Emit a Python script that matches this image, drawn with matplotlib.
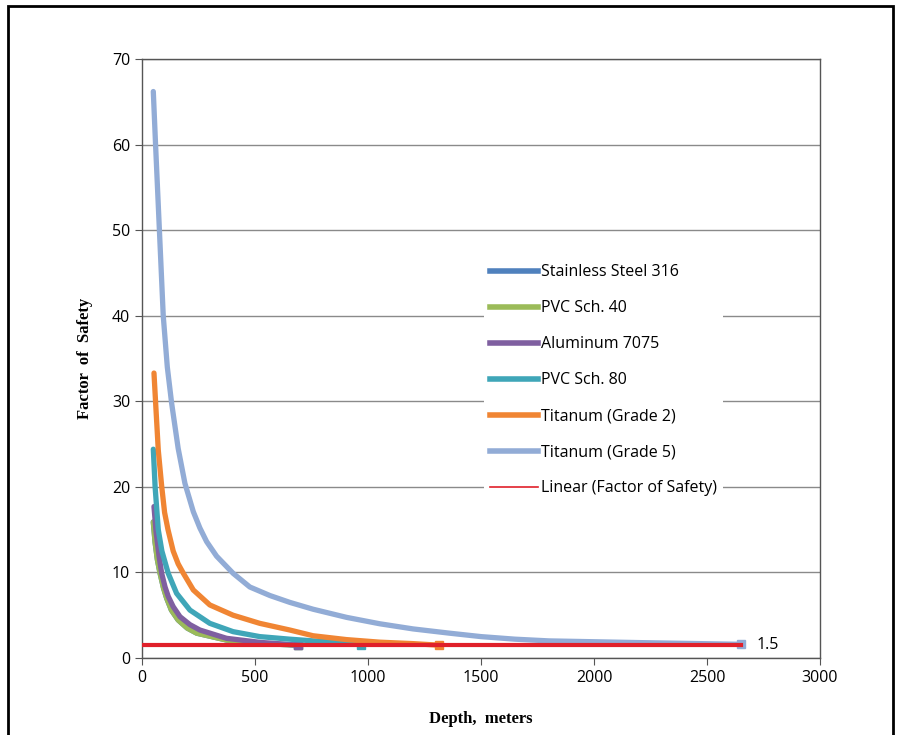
import numpy as np
import matplotlib
matplotlib.use("Agg")
import matplotlib.pyplot as plt
from matplotlib.patches import Rectangle
from matplotlib.lines import Line2D

# depth (m) and factor of safety
steel_x = [50, 58, 68, 80, 95, 109, 130, 160, 200, 242, 374, 521, 691]
steel_y = [15.9, 13.5, 11.5, 9.9, 8.2, 7.0, 5.6, 4.44, 3.5, 2.9, 2.1, 1.7, 1.5]
pvc40_x = [50, 58, 68, 80, 95, 109, 130, 160, 200, 242, 374, 521, 691]
pvc40_y = [15.9, 13.5, 11.5, 9.9, 8.2, 7.0, 5.6, 4.44, 3.5, 2.9, 2.1, 1.7, 1.5]
alu_x = [53, 62, 75, 87, 102, 116, 138, 168, 212, 256, 374, 521, 691]
alu_y = [17.7, 14.8, 12, 9.9, 8.3, 7.2, 6.0, 4.83, 3.9, 3.27, 2.3, 1.83, 1.5]
pvc80_x = [50, 58, 72, 88, 116, 153, 212, 300, 403, 521, 654, 757, 905, 971]
pvc80_y = [24.4, 20, 15, 12.5, 9.9, 7.56, 5.6, 4.05, 3.08, 2.5, 2.2, 2.0, 1.8, 1.5]
ti2_x = [53, 62, 72, 87, 100, 115, 138, 160, 183, 227, 300, 403, 521, 654, 757, 905,
         1052, 1199, 1314]
ti2_y = [33.3, 29, 24.3, 20.1, 17, 15, 12.5, 11, 9.9, 7.95, 6.2, 5.0, 4.05, 3.27, 2.6,
         2.15, 1.85, 1.68, 1.5]
ti5_x = [50, 60, 77, 94, 112, 131, 160, 190, 227, 256, 286, 330, 403, 477, 566, 654,
         757, 905, 1052, 1199, 1361, 1500, 1650, 1800, 2200, 2650]
ti5_y = [66.2, 60, 50, 40, 34, 29.8, 24.5, 20.4, 17.1, 15.2, 13.6, 11.9, 9.9, 8.3, 7.3,
         6.5, 5.7, 4.75, 4.0, 3.4, 2.9, 2.5, 2.2, 2.0, 1.8, 1.6]
fos_x = [0, 2650]
fos_y = [1.5, 1.5]

names = ["Stainless Steel 316", "PVC Sch. 40", "Aluminum 7075", "PVC Sch. 80",
         "Titanum (Grade 2)", "Titanum (Grade 5)"]
colors = ["#4F81BD", "#9BBB59", "#7F5FA0", "#3FA6B8", "#F08533", "#92ACD6"]
xs = [steel_x, pvc40_x, alu_x, pvc80_x, ti2_x, ti5_x]
ys = [steel_y, pvc40_y, alu_y, pvc80_y, ti2_y, ti5_y]

fig = plt.figure(figsize=(8.97, 7.35), dpi=100)
ax = fig.add_axes([142/897, 1 - 658/735, (820 - 142)/897, (658 - 59)/735])

for x, y, c in zip(xs, ys, colors):
    ax.plot(x, y, color=c, lw=3.8, solid_capstyle="round", solid_joinstyle="round",
            zorder=3, marker="s", markevery=[-1], markersize=6)
ax.plot(fos_x, fos_y, color="#E0202A", lw=3, zorder=4)
ax.text(2720, 1.5, "1.5", fontsize=11.5, family="Open Sans", va="center", ha="left")

ax.set_xlim(0, 3000)
ax.set_ylim(0, 70)
ax.set_xticks(np.arange(0, 3001, 500))
ax.set_yticks(np.arange(0, 71, 10))
ax.grid(axis="y", color="#8a8a8a", lw=1)
ax.set_axisbelow(True)
for s in ax.spines.values():
    s.set_color("#555555")
    s.set_linewidth(1)
ax.tick_params(colors="#555555", labelcolor="black", length=5, labelsize=11.5)
for lab in ax.get_xticklabels() + ax.get_yticklabels():
    lab.set_family("Open Sans")

ax.set_xlabel("Depth,  meters", family="Liberation Serif", weight="bold", fontsize=12, labelpad=18)
ax.set_ylabel("Factor  of  Safety", family="Liberation Serif", weight="bold", fontsize=12, labelpad=14)

handles = [Line2D([], [], color=c, lw=4) for c in colors]
handles.append(Line2D([], [], color="#E0202A", lw=1.2))
leg = ax.legend(handles, names + ["Linear (Factor of Safety)"],
                loc="upper left", bbox_to_anchor=(476/897, 1 - 250/735),
                bbox_transform=fig.transFigure, frameon=True, fancybox=False,
                edgecolor="none", facecolor="white", framealpha=1,
                handlelength=3.0, handletextpad=0.15, labelspacing=1.25,
                prop={"family": "Open Sans", "size": 11.5})
leg.set_zorder(5)

fig.add_artist(Rectangle((8/897, -0.02), (893 - 8)/897, 1 - 6/735 + 0.02,
                         transform=fig.transFigure, fill=False, lw=2, ec="black"))

fig.savefig("out.png", dpi=100)
